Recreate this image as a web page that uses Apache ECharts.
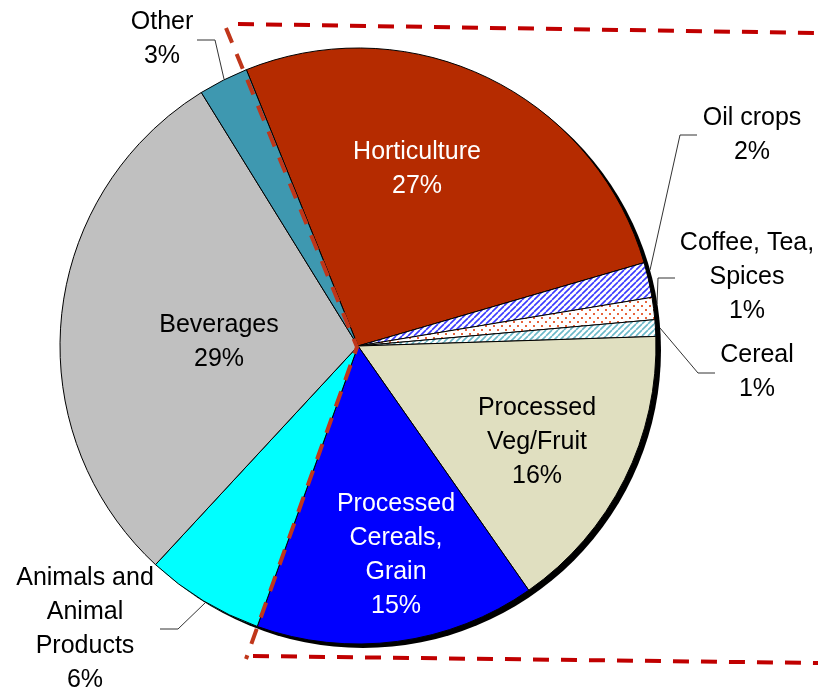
<!DOCTYPE html>
<html>
<head>
<meta charset="utf-8">
<script src="https://cdn.jsdelivr.net/npm/echarts@6/dist/echarts.min.js"></script>
<style>
  html, body { margin: 0; padding: 0; background: #fff; }
  #chart { width: 818px; height: 689px; }
</style>
</head>
<body>
<div id="chart"></div>
<script>
// slices, clockwise from the top-left
const categories = [
  "Horticulture",
  "Oil crops",
  "Coffee, Tea,\nSpices",
  "Cereal",
  "Processed\nVeg/Fruit",
  "Processed\nCereals,\nGrain",
  "Animals and\nAnimal\nProducts",
  "Beverages",
  "Other"
];
const shares = [26.6, 1.9, 1.2, 0.9, 15.8, 15.2, 6.4, 29.3, 2.7];
const insideLabel = [true, false, false, false, true, true, false, true, false];

// label placement (centre of text block) and leader lines
const labelPos = [
  [417, 169], [752, 135], [747, 277], [757, 372], [537, 442],
  [396, 555], [85, 629], [219, 342], [162, 39]
];
const leaderLines = [
  null,
  [[650, 270], [680, 135], [697, 135]],
  [[657, 304], [658, 278], [675, 278]],
  [[660, 328], [698, 373], [715, 373]],
  null,
  null,
  [[205, 603], [178, 629], [160, 629]],
  null,
  [[224, 79], [215, 40], [197, 40]]
];

function hatch(lineColor) {
  const c = document.createElement("canvas");
  c.width = 6; c.height = 6;
  const g = c.getContext("2d");
  g.fillStyle = "#fff";
  g.fillRect(0, 0, 6, 6);
  g.strokeStyle = lineColor;
  g.lineWidth = 1.6;
  g.beginPath();
  for (let k = -6; k <= 12; k += 6) {
    g.moveTo(k, 6);
    g.lineTo(k + 6, 0);
  }
  g.stroke();
  return { image: c, repeat: "repeat" };
}

function dots(dotColor) {
  const c = document.createElement("canvas");
  c.width = 8; c.height = 8;
  const g = c.getContext("2d");
  g.fillStyle = "#fff";
  g.fillRect(0, 0, 8, 8);
  g.fillStyle = dotColor;
  g.fillRect(1, 1, 2, 2);
  g.fillRect(5, 5, 2, 2);
  return { image: c, repeat: "repeat" };
}

const fills = [
  "#b52b00",
  hatch("#3a3aff"),
  dots("#e8643c"),
  hatch("#6ab8c8"),
  "#e0dfc0",
  "#0000ff",
  "#00ffff",
  "#c0c0c0",
  "#3e98b0"
];
const textColors = ["#fff", "#000", "#000", "#000", "#000", "#fff", "#000", "#000", "#000"];

const CENTER = [358, 346];
const RADIUS = 298;

const chart = echarts.init(document.getElementById("chart"));

chart.setOption({
  animation: false,
  backgroundColor: "#fff",
  textStyle: { fontFamily: "Liberation Sans, Arial, sans-serif" },
  series: [
    {
      // drop shadow behind the pie
      type: "pie",
      silent: true,
      center: [CENTER[0] + 5, CENTER[1] + 4],
      radius: RADIUS,
      z: 1,
      label: { show: false },
      labelLine: { show: false },
      itemStyle: { color: "#000" },
      data: [1]
    },
    {
      type: "pie",
      center: CENTER,
      radius: RADIUS,
      startAngle: 112,
      z: 2,
      avoidLabelOverlap: false,
      itemStyle: { borderColor: "#000", borderWidth: 1 },
      label: {
        fontSize: 25,
        lineHeight: 34,
        fontFamily: "Liberation Sans, Arial, sans-serif",
        formatter: (p) => p.name + "\n" + Math.round(p.percent) + "%"
      },
      labelLine: { lineStyle: { color: "#333", width: 1 } },
      labelLayout: (p) => {
        const i = p.dataIndex;
        const out = {
          x: labelPos[i][0],
          y: labelPos[i][1],
          align: "center",
          verticalAlign: "middle"
        };
        if (leaderLines[i]) out.labelLinePoints = leaderLines[i];
        return out;
      },
      data: categories.map((name, i) => ({
        name,
        value: shares[i],
        itemStyle: { color: fills[i] },
        label: {
          position: insideLabel[i] ? "inside" : "outside",
          color: textColors[i],
          align: "center"
        },
        labelLine: { show: !insideLabel[i] }
      }))
    }
  ],
  graphic: [
    {
      type: "polyline",
      z: 100,
      shape: { points: [[226, 28], [357, 347], [246, 659]] },
      style: { stroke: "#c0361a", lineWidth: 4, lineDash: [16, 12], fill: null }
    },
    {
      type: "polyline",
      z: 100,
      shape: { points: [[238, 24], [818, 33]] },
      style: { stroke: "#c00000", lineWidth: 4, lineDash: [16, 12], fill: null }
    },
    {
      type: "polyline",
      z: 100,
      shape: { points: [[253, 656], [818, 663]] },
      style: { stroke: "#c00000", lineWidth: 4, lineDash: [16, 12], fill: null }
    }
  ]
});
</script>
</body>
</html>
